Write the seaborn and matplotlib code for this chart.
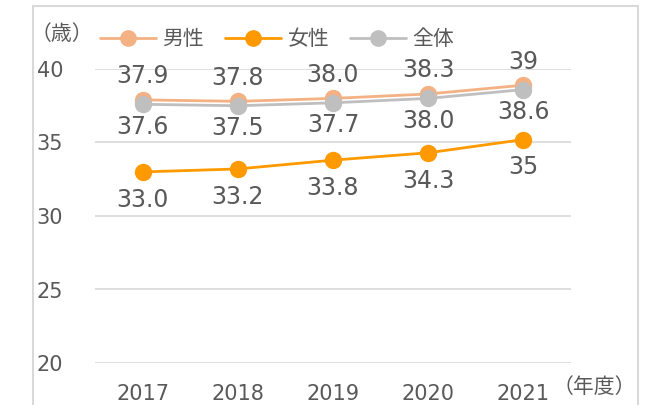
import pandas as pd
import matplotlib.pyplot as plt
import seaborn as sns
from matplotlib.patches import Rectangle
from matplotlib.lines import Line2D

years = ['2017', '2018', '2019', '2020', '2021']
male = [37.9, 37.8, 38.0, 38.3, 38.9]
female = [33.0, 33.2, 33.8, 34.3, 35.2]
total = [37.6, 37.5, 37.7, 38.0, 38.6]
male_labels = ['37.9', '37.8', '38.0', '38.3', '39']
female_labels = ['33.0', '33.2', '33.8', '34.3', '35']
total_labels = ['37.6', '37.5', '37.7', '38.0', '38.6']
series = ['男性', '女性', '全体']
colors = {'男性': '#F4B183', '女性': '#FF9900', '全体': '#BFBFBF'}
text_color = '#595959'

df = pd.DataFrame({
    'year': years * 3,
    'age': male + female + total,
    'group': ['男性'] * 5 + ['女性'] * 5 + ['全体'] * 5,
})

sns.set_style('white')
plt.rcParams['font.family'] = ['DejaVu Sans', 'Noto Sans CJK JP']

fig = plt.figure(figsize=(6.56, 4.05), dpi=100)
ax = fig.add_axes([95 / 656, 1 - 363 / 405, 476 / 656, 294 / 405])

sns.pointplot(data=df, x='year', y='age', hue='group', hue_order=series,
              palette=colors, errorbar=None, markers='o', markersize=11,
              linewidth=2, ax=ax, legend=False)

ax.set_xlim(-0.5, 4.5)
ax.set_ylim(20, 40)
ax.set_yticks([20, 25, 30, 35, 40])
ax.grid(axis='y', color='#D9D9D9', lw=1.2)
ax.grid(axis='x', visible=False)
sns.despine(ax=ax, left=True, bottom=True)
ax.set_xlabel('')
ax.set_ylabel('')
ax.tick_params(axis='x', length=0, pad=15, labelsize=15, labelcolor=text_color)
ax.tick_params(axis='y', length=0, pad=23, labelsize=15, labelcolor=text_color)

# data labels
for vals, labs, dy in [(male, male_labels, 17), (total, total_labels, -16),
                       (female, female_labels, -20)]:
    for i, (v, t) in enumerate(zip(vals, labs)):
        ax.annotate(t, (i, v), xytext=(0, dy), textcoords='offset points',
                    ha='center', va='center', fontsize=17, color=text_color)

handles = [Line2D([], [], color=colors[s], lw=2, marker='o', markersize=11)
           for s in series]
fig.legend(handles, series, loc='center left', bbox_to_anchor=(100 / 656, 1 - 39 / 405),
           ncol=3, frameon=False, fontsize=15, handlelength=2.7,
           handletextpad=0.3, columnspacing=1.0, borderaxespad=0, borderpad=0,
           labelcolor=text_color)

fig.text(62 / 656, 1 - 34 / 405, '（歳）', ha='center', va='center',
         fontsize=15, color=text_color)
fig.text(594 / 656, 1 - 387 / 405, '（年度）', ha='center', va='center',
         fontsize=15, color=text_color)

fig.add_artist(Rectangle((33 / 656, -0.1), 605 / 656, 1.1 - 6 / 405,
                         transform=fig.transFigure, fill=False,
                         edgecolor='#D9D9D9', lw=1.5))

fig.savefig('out.png', dpi=100)
